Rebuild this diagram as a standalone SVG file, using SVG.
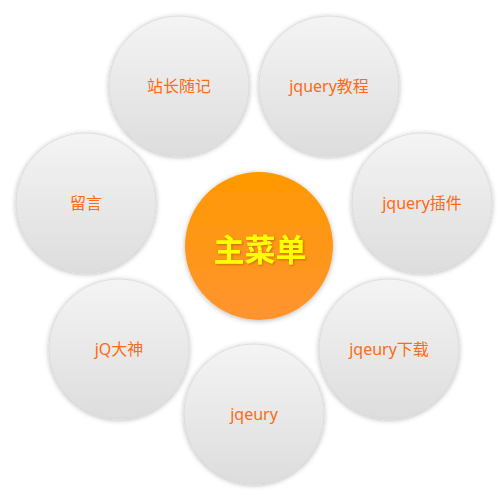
<svg xmlns="http://www.w3.org/2000/svg" width="504" height="499" viewBox="0 0 504 499">
<defs>
<linearGradient id="gGrey" x1="0" y1="0" x2="0" y2="1">
<stop offset="0" stop-color="#f4f4f4"/>
<stop offset="1" stop-color="#dddddd"/>
</linearGradient>
<linearGradient id="gOrange" x1="0" y1="0" x2="0" y2="1">
<stop offset="0" stop-color="#ff9900"/>
<stop offset="1" stop-color="#ff9430"/>
</linearGradient>
<filter id="shadow" x="-20%" y="-20%" width="140%" height="140%">
<feDropShadow dx="0" dy="1" stdDeviation="2.5" flood-color="#000" flood-opacity="0.28"/>
</filter>
<filter id="tshadow" x="-10%" y="-20%" width="120%" height="140%">
<feDropShadow dx="1" dy="1" stdDeviation="0.8" flood-color="#a05000" flood-opacity="0.6"/>
</filter>
</defs>
<style>
.sub circle { fill: url(#gGrey); stroke: #d8d8d8; stroke-width: 0.8; filter: url(#shadow); }
.sub text { font-family: "Microsoft YaHei", "Noto Sans", "Noto Sans CJK SC", sans-serif; font-size: 16px; fill: #ff6a12; text-anchor: middle; dominant-baseline: central; }
.main circle { fill: url(#gOrange); filter: url(#shadow); }
.main text { font-family: "Noto Sans CJK SC", sans-serif; font-size: 31px; font-weight: bold; fill: #ffff00; text-anchor: middle; dominant-baseline: central; filter: url(#tshadow); }
</style>
<g id="connectors"/>
<g id="node-zhanzhang" class="sub"><circle cx="179" cy="86" r="70"/><text x="179" y="86">站长随记</text></g>
<g id="node-jqjiaocheng" class="sub"><circle cx="329" cy="86" r="70"/><text x="329" y="86">jquery教程</text></g>
<g id="node-liuyan" class="sub"><circle cx="86" cy="203" r="70"/><text x="86" y="203">留言</text></g>
<g id="node-jqchajian" class="sub"><circle cx="422" cy="203" r="70"/><text x="422" y="203">jquery插件</text></g>
<g id="node-jqdashen" class="sub"><circle cx="119" cy="349" r="70"/><text x="119" y="349">jQ大神</text></g>
<g id="node-jqxiazai" class="sub"><circle cx="389" cy="349" r="70"/><text x="389" y="349">jqeury下载</text></g>
<g id="node-jqeury" class="sub"><circle cx="254" cy="414" r="70"/><text x="254" y="414">jqeury</text></g>
<g id="node-main" class="main"><circle cx="259" cy="246" r="74"/><text x="260" y="247">主菜单</text></g>
</svg>
